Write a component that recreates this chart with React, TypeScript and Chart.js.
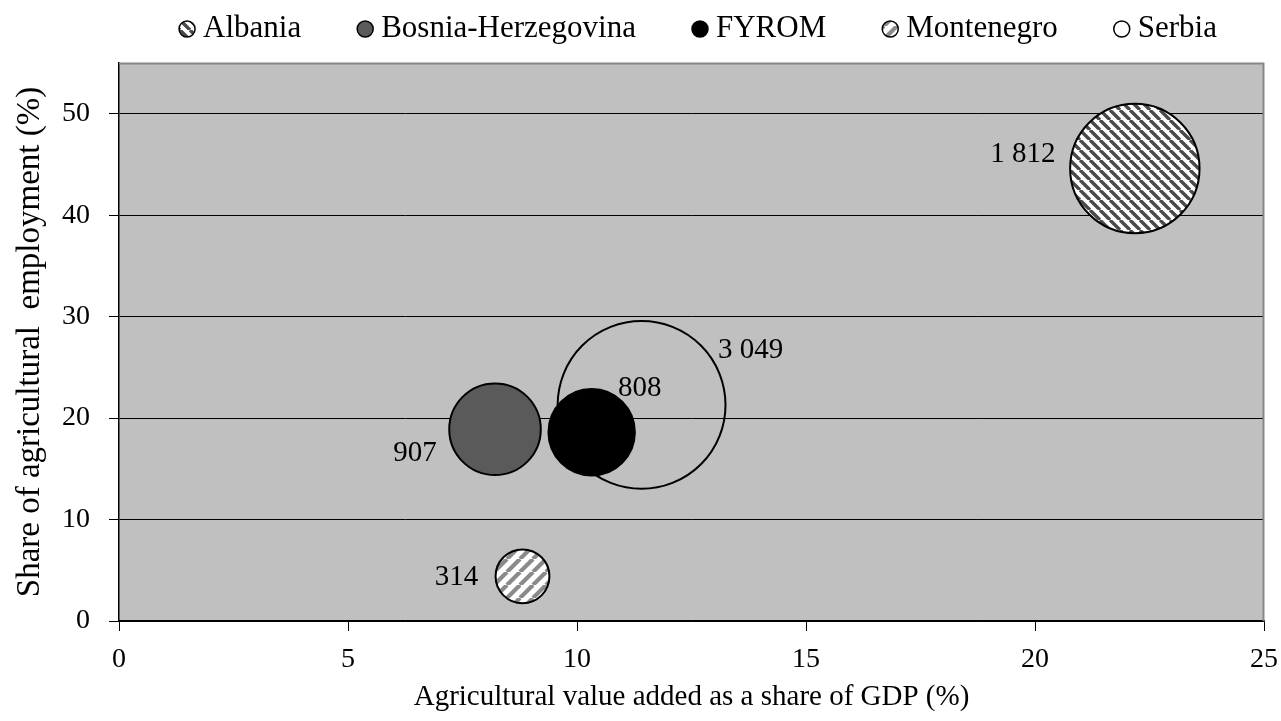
import React, { useEffect, useRef } from 'react';
import { Chart, registerables } from 'chart.js';

Chart.register(...registerables);

// ---- Data ----
const COUNTRIES = ['Albania', 'Bosnia-Herzegovina', 'FYROM', 'Montenegro', 'Serbia'];
const GDP_SHARE = [22.18, 8.21, 10.32, 8.81, 11.41];
const EMPLOYMENT_SHARE = [44.6, 18.9, 18.6, 4.4, 21.3];
const BUBBLE_SIZE = [1812, 907, 808, 314, 3049];
const X_TICKS = [0, 5, 10, 15, 20, 25];
const Y_TICKS = [0, 10, 20, 30, 40, 50];
const X_TITLE = 'Agricultural value added as a share of GDP (%)';
const Y_TITLE = 'Share of agricultural  employment (%)';

// ---- Styles ----
const FONT = '"Liberation Serif", "Times New Roman", serif';
const RADIUS_PER_SQRT = 1.52;
const LABEL_OFFSETS: [number, number][] = [
  [-112, -16],
  [-80, 22],
  [48, -46],
  [-66, -1],
  [109, -57],
];

function makeHatch(dir: number, period: number, lineW: number, color: string) {
  const c = document.createElement('canvas');
  c.width = period;
  c.height = period;
  const g = c.getContext('2d')!;
  g.fillStyle = '#ffffff';
  g.fillRect(0, 0, period, period);
  g.strokeStyle = color;
  g.lineWidth = lineW;
  g.beginPath();
  for (let k = -1; k <= 1; k++) {
    if (dir === 1) {
      g.moveTo(k * period, 0);
      g.lineTo(k * period + period, period);
    } else {
      g.moveTo(k * period, period);
      g.lineTo(k * period + period, 0);
    }
  }
  g.stroke();
  return g.createPattern(c, 'repeat');
}

function fmt(v: number) {
  return String(v).replace(/\B(?=(\d{3})+(?!\d))/g, ' ');
}

const backgroundPlugin = {
  id: 'plotBg',
  beforeDraw(chart: any) {
    const { ctx, chartArea } = chart;
    ctx.save();
    ctx.fillStyle = '#c0c0c0';
    ctx.fillRect(chartArea.left, chartArea.top, chartArea.right - chartArea.left, chartArea.bottom - chartArea.top);
    ctx.restore();
  },
  afterDraw(chart: any) {
    const { ctx, chartArea } = chart;
    ctx.save();
    ctx.strokeStyle = '#868686';
    ctx.lineWidth = 2;
    ctx.beginPath();
    ctx.moveTo(chartArea.left, chartArea.top + 0.5);
    ctx.lineTo(chartArea.right - 0.5, chartArea.top + 0.5);
    ctx.lineTo(chartArea.right - 0.5, chartArea.bottom);
    ctx.stroke();
    ctx.restore();
  },
};

const labelPlugin = {
  id: 'bubbleLabels',
  afterDatasetsDraw(chart: any) {
    const ctx = chart.ctx;
    ctx.save();
    ctx.font = `29px ${FONT}`;
    ctx.fillStyle = '#000';
    ctx.textAlign = 'center';
    ctx.textBaseline = 'alphabetic';
    chart.data.datasets.forEach((ds: any, i: number) => {
      const meta = chart.getDatasetMeta(i);
      const el = meta.data[0];
      if (!el) return;
      const [dx, dy] = LABEL_OFFSETS[i];
      ctx.fillText(fmt(ds.sizeValue), el.x + dx, el.y + dy + 29 * 0.34);
    });
    ctx.restore();
  },
};

const legendPlugin = {
  id: 'customLegend',
  afterDraw(chart: any) {
    const ctx = chart.ctx;
    const fontSize = 31;
    const markerR = 8;
    const markerToText = 16;
    const itemGap = 56;
    const centerX = 698;
    const baseline = 37;
    const markerY = 29;
    ctx.save();
    ctx.font = `${fontSize}px ${FONT}`;
    const items = chart.data.datasets.map((ds: any) => ({
      label: ds.label,
      bg: ds.backgroundColor,
      border: ds.borderColor,
      w: ctx.measureText(ds.label).width,
    }));
    const total =
      items.reduce((s: number, it: any) => s + markerR + markerToText + it.w, 0) + itemGap * (items.length - 1);
    let x = centerX - total / 2;
    items.forEach((it: any) => {
      const cx = x + markerR;
      ctx.beginPath();
      ctx.arc(cx, markerY, markerR, 0, Math.PI * 2);
      ctx.fillStyle = it.bg;
      ctx.fill();
      ctx.lineWidth = 1.5;
      ctx.strokeStyle = it.border;
      ctx.stroke();
      ctx.fillStyle = '#000';
      ctx.textAlign = 'left';
      ctx.textBaseline = 'alphabetic';
      ctx.fillText(it.label, cx + markerToText, baseline);
      x = cx + markerToText + it.w + itemGap;
    });
    ctx.restore();
  },
};

function zeroPadding(s: any) {
  s.paddingLeft = 0;
  s.paddingRight = 0;
  s.paddingTop = 0;
  s.paddingBottom = 0;
}

export default function App() {
  const canvasRef = useRef<HTMLCanvasElement | null>(null);

  useEffect(() => {
    document.body.style.margin = '0';
    const canvas = canvasRef.current;
    if (!canvas) return;

    const fills: any[] = [
      makeHatch(1, 10, 3.4, '#4a4a4a'),
      '#5a5a5a',
      '#000000',
      makeHatch(-1, 13, 4.2, '#8a8a8a'),
      'rgba(0,0,0,0)',
    ];

    const datasets = COUNTRIES.map((name, i) => ({
      label: name,
      sizeValue: BUBBLE_SIZE[i],
      data: [{ x: GDP_SHARE[i], y: EMPLOYMENT_SHARE[i], r: RADIUS_PER_SQRT * Math.sqrt(BUBBLE_SIZE[i]) }],
      backgroundColor: fills[i],
      borderColor: '#000000',
      borderWidth: 2,
      hoverBorderWidth: 2,
    }));

    const chart = new Chart(canvas, {
      type: 'bubble',
      data: { datasets } as any,
      options: {
        animation: false,
        responsive: false,
        devicePixelRatio: 1,
        layout: { autoPadding: false, padding: { top: 63, right: 17, left: 0, bottom: 0 } },
        plugins: {
          legend: { display: false },
          tooltip: { enabled: false },
        },
        scales: {
          x: {
            type: 'linear',
            min: 0,
            max: 25,
            afterBuildTicks: (s: any) => {
              s.ticks = X_TICKS.map((v) => ({ value: v }));
            },
            afterFit: (s: any) => {
              s.height = 100;
              zeroPadding(s);
            },
            ticks: {
              color: '#000',
              font: { family: FONT, size: 28 },
              padding: 12,
              maxRotation: 0,
            },
            grid: {
              drawOnChartArea: false,
              drawTicks: true,
              tickLength: 10,
              color: '#000',
              lineWidth: 1,
            },
            border: { display: true, color: '#000', width: 1.5 },
            title: {
              display: true,
              text: X_TITLE,
              color: '#000',
              font: { family: FONT, size: 29 },
              padding: { top: 0, bottom: 6 },
            },
          },
          y: {
            type: 'linear',
            min: 0,
            max: 55,
            afterBuildTicks: (s: any) => {
              s.ticks = Y_TICKS.map((v) => ({ value: v }));
            },
            afterFit: (s: any) => {
              s.width = 119;
              zeroPadding(s);
            },
            ticks: {
              color: '#000',
              font: { family: FONT, size: 28 },
              padding: 19,
            },
            grid: {
              drawTicks: true,
              tickLength: 10,
              color: '#000',
              lineWidth: 1,
            },
            border: { display: true, color: '#000', width: 1.5 },
            title: {
              display: true,
              text: Y_TITLE,
              color: '#000',
              font: { family: FONT, size: 33 },
              padding: { top: 11, bottom: 0 },
            },
          },
        },
      } as any,
      plugins: [backgroundPlugin, labelPlugin, legendPlugin],
    });

    return () => {
      chart.destroy();
    };
  }, []);

  return (
    <div style={{ width: 1281, height: 721 }}>
      <canvas ref={canvasRef} width={1281} height={721} />
    </div>
  );
}
